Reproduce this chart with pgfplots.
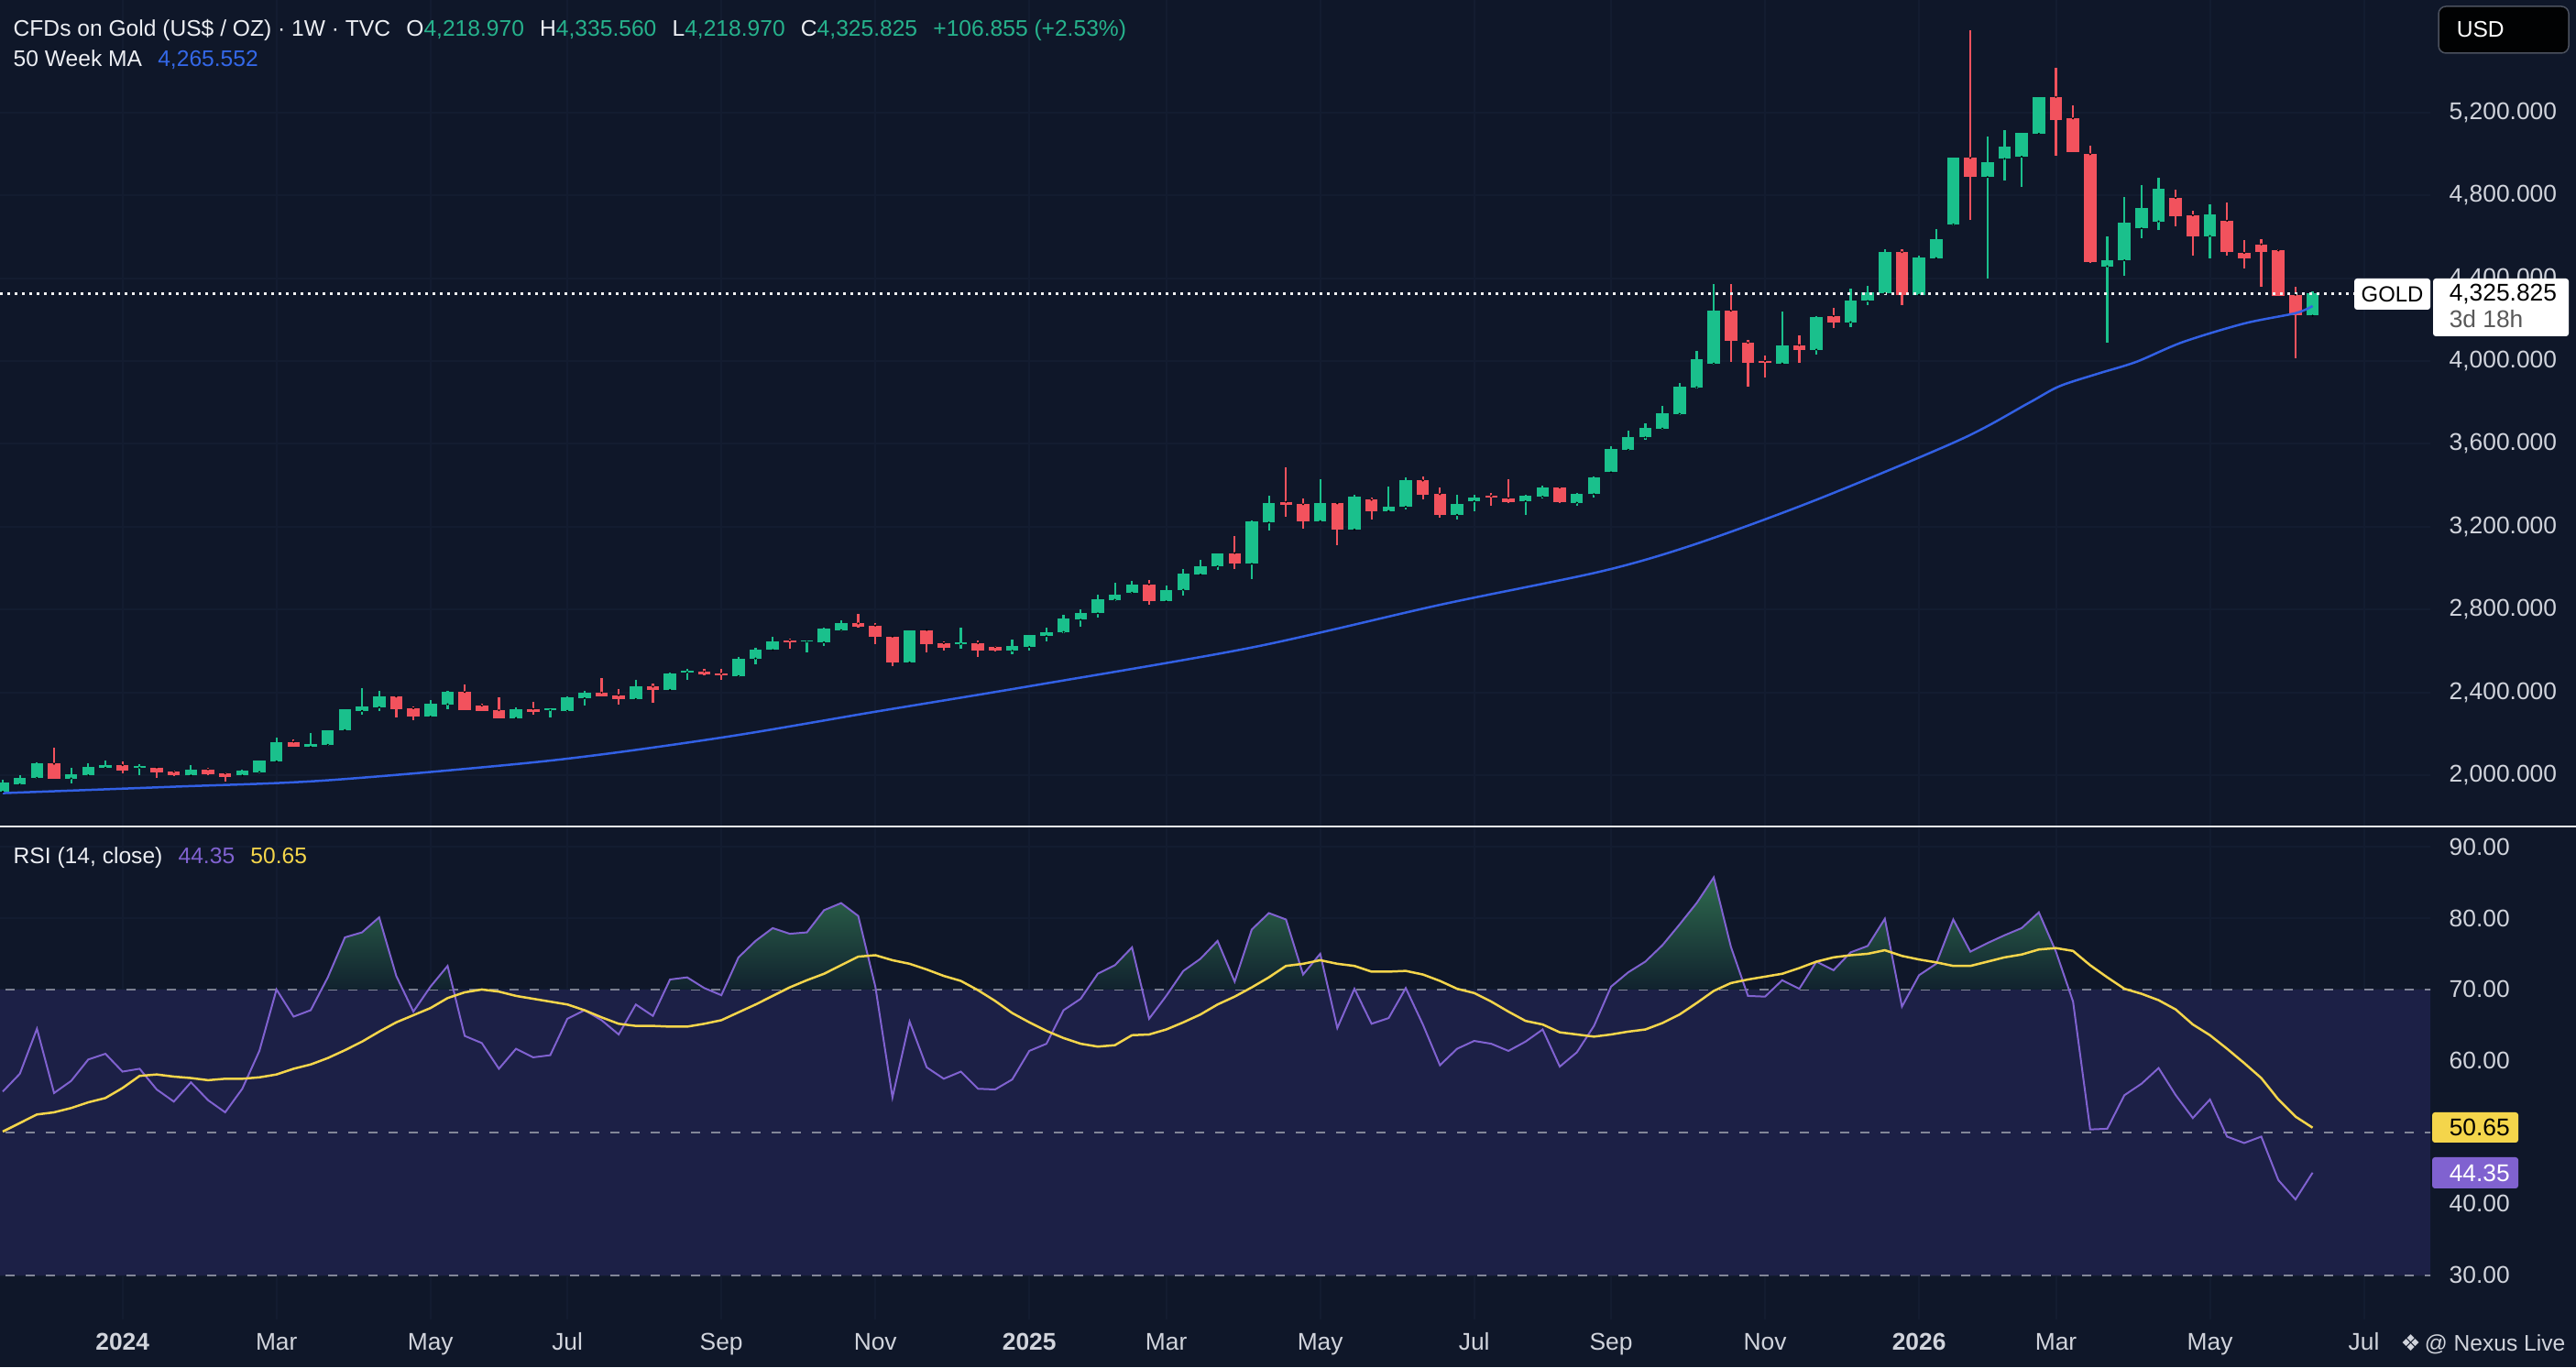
\documentclass[border=0pt]{standalone}
\usepackage{fontspec}
\setmainfont{Liberation Sans}
\newfontfamily\dejavu{DejaVu Sans}
\usepackage{pgfplots}
\pgfplotsset{compat=1.18}
\usepackage{pgfplotstable}

\definecolor{bgc}{RGB}{15,23,41}
\definecolor{bandc}{RGB}{28,32,70}
\definecolor{gridc}{RGB}{19,28,48}
\definecolor{upc}{RGB}{26,192,140}
\definecolor{dnc}{RGB}{242,82,93}
\definecolor{mac}{RGB}{50,96,228}
\definecolor{rsic}{RGB}{128,98,208}
\definecolor{yelc}{RGB}{244,213,75}
\definecolor{lblc}{RGB}{209,212,220}
\definecolor{gval}{RGB}{38,178,140}
\definecolor{mablue}{RGB}{52,104,232}
\definecolor{dashc}{RGB}{130,134,152}
\definecolor{gtop}{RGB}{46,106,78}
\definecolor{gbot}{RGB}{17,34,46}
\definecolor{hdrc}{RGB}{236,238,243}
\pgfdeclareverticalshading{rsig}{100bp}{color(0bp)=(gbot); color(57.6bp)=(gbot); color(75bp)=(gtop); color(100bp)=(gtop)}

\newcommand\hdr{\fontsize{7}{8.4}\selectfont}
\newcommand\lbl{\fontsize{7.5}{9}\selectfont}

\pgfplotstableread{
k O H L C
0 1920 1979 1916 1967
1 1956 1999 1950 1989
2 1988 2063 1985 2059
4 1985 2034 1960 2004
5 2000 2056 1997 2041
6 2037 2073 2034 2049
8 2037 2053 2001 2041
11 1999 2051 1999 2026
14 1999 2026 1997 2023
15 2016 2073 2009 2070
16 2067 2181 2067 2162
18 2137 2206 2132 2150
19 2147 2218 2144 2218
20 2218 2318 2218 2318
21 2311 2420 2291 2331
22 2328 2406 2311 2380
25 2283 2365 2280 2346
26 2343 2409 2318 2405
30 2277 2328 2277 2321
32 2315 2325 2280 2321
33 2311 2380 2306 2375
34 2372 2409 2336 2399
37 2368 2461 2362 2428
39 2412 2498 2412 2493
40 2498 2515 2461 2505
43 2479 2571 2476 2564
44 2564 2616 2535 2608
45 2605 2670 2601 2645
47 2645 2649 2593 2649
48 2642 2711 2623 2707
49 2701 2748 2697 2736
53 2545 2701 2545 2701
56 2634 2712 2613 2642
59 2601 2656 2586 2623
60 2619 2678 2601 2678
61 2672 2715 2645 2692
62 2692 2774 2689 2756
63 2751 2803 2719 2785
64 2782 2874 2763 2849
65 2847 2928 2844 2871
66 2881 2940 2878 2922
68 2840 2918 2840 2896
69 2896 2994 2869 2972
70 2969 3040 2969 3011
71 3009 3073 2992 3073
73 3021 3232 2947 3227
74 3220 3350 3183 3313
77 3227 3429 3227 3313
79 3186 3353 3186 3345
81 3276 3392 3276 3298
82 3296 3436 3283 3423
85 3257 3352 3235 3311
86 3323 3355 3276 3342
89 3323 3353 3257 3350
90 3345 3397 3338 3389
92 3316 3364 3301 3360
93 3357 3444 3341 3438
94 3463 3588 3459 3574
95 3571 3662 3568 3632
96 3631 3701 3620 3678
97 3674 3785 3671 3748
98 3745 3892 3742 3878
99 3873 4050 3870 4010
100 3988 4371 3985 4243
104 3988 4239 3988 4074
106 4055 4217 4032 4212
108 4187 4349 4165 4290
109 4290 4364 4268 4330
110 4327 4541 4327 4526
112 4320 4507 4320 4500
113 4497 4637 4497 4588
114 4659 4983 4656 4980
116 4888 5084 4397 4958
117 4976 5113 4873 5035
118 4986 5101 4839 5101
119 5097 5274 5094 5274
123 4457 4600 4088 4485
124 4486 4792 4411 4669
125 4640 4851 4593 4737
126 4674 4885 4634 4831
129 4603 4758 4497 4708
135 4218.97 4335.56 4218.97 4325.825
}\uptab

\pgfplotstableread{
k O H L C
3 2056 2132 1982 1985
7 2049 2066 2009 2023
9 2038 2038 1988 2014
10 2017 2023 1997 1999
12 2029 2034 1999 2004
13 2009 2014 1970 1994
17 2162 2174 2137 2137
23 2380 2380 2280 2321
24 2324 2331 2265 2284
27 2402 2439 2316 2316
28 2336 2347 2311 2311
29 2314 2375 2277 2277
31 2321 2353 2291 2306
35 2399 2468 2380 2383
36 2387 2417 2343 2368
38 2428 2442 2350 2412
41 2501 2515 2483 2486
42 2490 2515 2461 2483
46 2652 2660 2613 2645
50 2733 2778 2711 2719
51 2723 2737 2634 2667
52 2670 2670 2525 2545
54 2701 2701 2594 2634
55 2638 2645 2601 2616
57 2638 2653 2572 2604
58 2619 2626 2598 2604
67 2922 2943 2825 2840
72 3073 3154 2996 3021
75 3320 3488 3249 3305
76 3308 3338 3190 3227
78 3313 3313 3109 3186
80 3330 3341 3235 3276
83 3423 3441 3333 3353
84 3357 3389 3245 3257
87 3348 3364 3301 3341
88 3338 3429 3313 3320
91 3389 3392 3316 3319
101 4243 4371 3995 4099
102 4088 4103 3878 3991
103 4000 4025 3922 3993
105 4077 4124 3991 4055
107 4217 4257 4158 4187
111 4526 4541 4268 4320
115 4980 5595 4681 4888
120 5274 5415 4991 5165
121 5171 5234 5010 5010
122 4998 5038 4475 4478
127 4787 4828 4652 4700
128 4703 4725 4507 4603
130 4677 4767 4507 4526
131 4522 4585 4448 4497
132 4563 4588 4357 4526
133 4534 4538 4312 4312
134 4320 4357 4015 4219
}\dntab

\pgfplotstableread{
k r m
0 55.7 50.1
1 58.2 51.3
2 64.5 52.5
3 55.5 52.8
4 57.2 53.4
5 60.2 54.2
6 61.0 54.8
7 58.5 56.2
8 58.9 57.9
9 56.0 58.1
10 54.3 57.8
11 57.0 57.6
12 54.5 57.3
13 52.8 57.5
14 56.1 57.5
15 61.4 57.7
16 70.0 58.1
17 66.2 58.9
18 67.1 59.5
19 71.7 60.4
20 77.3 61.5
21 78.0 62.7
22 80.1 64.1
23 71.9 65.4
24 66.9 66.4
25 70.4 67.4
26 73.3 68.8
27 63.5 69.6
28 62.5 70.0
29 58.9 69.7
30 61.7 69.1
31 60.5 68.7
32 60.8 68.3
33 65.9 67.9
34 67.1 67.1
35 65.7 66.1
36 63.7 65.2
37 67.9 64.9
38 66.3 64.9
39 71.4 64.8
40 71.7 64.8
41 70.2 65.2
42 69.2 65.7
43 74.5 66.8
44 76.8 67.9
45 78.6 69.1
46 77.8 70.3
47 78.0 71.3
48 81.1 72.2
49 82.1 73.4
50 80.3 74.6
51 70.4 74.8
52 54.9 74.1
53 65.5 73.6
54 59.1 72.8
55 57.5 71.9
56 58.5 71.2
57 56.1 69.9
58 56.0 68.4
59 57.4 66.7
60 61.4 65.4
61 62.4 64.2
62 67.1 63.2
63 68.7 62.4
64 72.2 62.0
65 73.4 62.2
66 75.9 63.6
67 65.9 63.7
68 69.1 64.4
69 72.6 65.4
70 74.3 66.5
71 76.8 67.9
72 71.1 69.0
73 78.4 70.3
74 80.7 71.7
75 79.8 73.3
76 72.1 73.6
77 75.0 74.1
78 64.6 73.6
79 70.1 73.3
80 65.2 72.5
81 66.0 72.5
82 70.2 72.6
83 65.1 72.1
84 59.4 71.2
85 61.7 70.1
86 62.8 69.5
87 62.4 68.3
88 61.4 66.9
89 62.7 65.6
90 64.4 65.1
91 59.2 64.0
92 61.2 63.7
93 64.9 63.4
94 70.4 63.7
95 72.4 64.1
96 73.9 64.4
97 76.2 65.3
98 79.1 66.5
99 82.1 68.1
100 85.7 69.8
101 76.0 70.9
102 69.1 71.4
103 69.0 71.8
104 71.3 72.2
105 70.1 73.0
106 73.9 73.9
107 72.7 74.5
108 75.2 74.8
109 76.1 75.0
110 79.9 75.5
111 67.6 74.7
112 72.0 74.2
113 73.6 73.8
114 79.8 73.3
115 75.3 73.3
116 76.5 73.9
117 77.6 74.5
118 78.6 74.9
119 80.8 75.6
120 75.3 75.8
121 68.3 75.4
122 50.4 73.4
123 50.5 71.7
124 55.2 70.1
125 56.8 69.4
126 59.0 68.5
127 55.2 67.2
128 52.0 65.1
129 54.6 63.6
130 49.4 61.7
131 48.5 59.7
132 49.4 57.6
133 43.3 54.6
134 40.6 52.2
135 44.35 50.65
}\rsitab

\pgfplotsset{
  tvbase/.style={
    scale only axis, width=265.2mm,
    xmin=-0.16, xmax=141.88,
    axis line style={draw=none}, tick style={draw=none},
    xtick={7,16,25,33,42,51,60,68,77,86,94,103,112,120,129,138},
    grid=major, grid style={gridc, line width=0.2mm},
    tick label style={font=\lbl, text=lblc},
    yticklabel pos=right,
    yticklabel style={anchor=west, inner sep=0pt, xshift=2mm},
  },
  candle/.style={only marks, mark=*, mark size=0.01pt, mark options={draw=none, fill=none}},
}

\begin{document}
\begin{tikzpicture}
\fill[bgc] (0mm,0mm) rectangle (281.1mm,149.2mm);
\useasboundingbox (0mm,0mm) rectangle (281.1mm,149.2mm);

% ---------------- price panel ----------------
\begin{axis}[tvbase, at={(0mm,149.2mm)}, anchor=north west, height=90.2mm,
  ymin=1753, ymax=5742.7,
  ytick={2000,2400,2800,3200,3600,4000,4400,4800,5200},
  yticklabels={{2,000.000},{2,400.000},{2,800.000},{3,200.000},{3,600.000},{4,000.000},{4,400.000},{4,800.000},{5,200.000}},
  xticklabels={}]
  % wicks
  \addplot[candle, error bars/.cd, y dir=both, y explicit, error mark=none,
    error bar style={draw=upc, solid, line width=0.22mm}]
    table[x=k, y=O, y error plus expr=\thisrow{H}-\thisrow{O}, y error minus expr=\thisrow{O}-\thisrow{L}] {\uptab};
  \addplot[candle, error bars/.cd, y dir=both, y explicit, error mark=none,
    error bar style={draw=dnc, solid, line width=0.22mm}]
    table[x=k, y=O, y error plus expr=\thisrow{H}-\thisrow{O}, y error minus expr=\thisrow{O}-\thisrow{L}] {\dntab};
  % bodies
  \addplot[candle, error bars/.cd, y dir=plus, y explicit, error mark=none,
    error bar style={draw=upc, solid, line width=1.35mm}]
    table[x=k, y=O, y error plus expr={max(\thisrow{C}-\thisrow{O},8)}, y error minus expr=0] {\uptab};
  \addplot[candle, error bars/.cd, y dir=minus, y explicit, error mark=none,
    error bar style={draw=dnc, solid, line width=1.35mm}]
    table[x=k, y=O, y error plus expr=0, y error minus expr={max(\thisrow{O}-\thisrow{C},8)}] {\dntab};
  % 50 week MA
  \addplot[mac, line width=0.25mm, smooth, tension=0.5, mark=none] coordinates {
    (0,1914) (10,1945) (19,1976) (32,2071) (42,2182) (51,2307) (60,2430)
    (73,2617) (84,2823) (93.5,2986) (99,3118) (106,3330) (114.4,3620)
    (118.4,3797) (120.2,3878) (122.5,3940) (124.7,3996) (127.4,4091)
    (131,4181) (134,4231) (135,4265.552)};
  % current price line
  \addplot[white!90!gray, line width=0.25mm, dash pattern=on 0.25mm off 0.55mm, mark=none]
    coordinates {(-1,4325.825) (150,4325.825)};
\end{axis}

% ---------------- RSI panel ----------------
\begin{axis}[tvbase, at={(0mm,58.8mm)}, anchor=north west, height=53.6mm,
  ymin=23.8, ymax=92.57,
  ytick={30,40,50,60,70,80,90},
  yticklabels={30.00,40.00,50.00,60.00,70.00,80.00,90.00},
  xticklabels={\textbf{2024},Mar,May,Jul,Sep,Nov,\textbf{2025},Mar,May,Jul,Sep,Nov,\textbf{2026},Mar,May,Jul},
  xticklabel style={anchor=base, yshift=-3.4mm}]
  \fill[bandc] (axis cs:-1,30) rectangle (axis cs:143,70);
  \addplot[dashc, line width=0.2mm, dash pattern=on 1mm off 1.2mm, mark=none] coordinates {(-1,70) (143,70)};
  \addplot[dashc, line width=0.2mm, dash pattern=on 1mm off 1.2mm, mark=none] coordinates {(-1,50) (143,50)};
  \addplot[dashc, line width=0.2mm, dash pattern=on 1mm off 1.2mm, mark=none] coordinates {(-1,30) (143,30)};
  \begin{scope}
    \clip (axis cs:-1,70) rectangle (axis cs:143,100);
    \addplot[draw=none, shade, shading=rsig, mark=none] table[x=k, y=r] {\rsitab}
      -- (axis cs:135,70) -- (axis cs:0,70) -- cycle;
  \end{scope}
  \addplot[rsic, line width=0.2mm, mark=none] table[x=k, y=r] {\rsitab};
  \addplot[yelc, line width=0.25mm, mark=none] table[x=k, y=m] {\rsitab};
\end{axis}

% ---------------- overlays ----------------
\begin{scope}[x=0.1mm, y=0.1mm]
  \draw[white!88!gray, line width=0.2mm] (0,590) -- (2811,590);
  % header
  \node[anchor=base west, inner sep=0, font=\hdr, text=hdrc] at (14,1452)
    {CFDs on Gold (US\$ / OZ) · 1W · TVC\hspace{0.7em}O\textcolor{gval}{4,218.970}\hspace{0.7em}H\textcolor{gval}{4,335.560}\hspace{0.7em}L\textcolor{gval}{4,218.970}\hspace{0.7em}C\textcolor{gval}{4,325.825}\hspace{0.7em}\textcolor{gval}{+106.855 (+2.53\%)}};
  \node[anchor=base west, inner sep=0, font=\hdr, text=hdrc] at (14,1419)
    {50 Week MA\hspace{0.7em}\textcolor{mablue}{4,265.552}};
  \node[anchor=base west, inner sep=0, font=\hdr, text=hdrc] at (14,549)
    {RSI (14, close)\hspace{0.7em}\textcolor{rsic}{44.35}\hspace{0.7em}\textcolor{yelc}{50.65}};
  % USD box
  \filldraw[fill=black!92!bgc, draw=white!25!bgc, line width=0.15mm, rounded corners=0.8mm] (2661,1434) rectangle (2803,1485);
  \node[anchor=west, inner sep=0, font=\hdr, text=white] at (2680,1460) {USD};
  % GOLD price labels
  \fill[white, rounded corners=0.3mm] (2569,1154) rectangle (2652,1188);
  \node[anchor=center, inner sep=0, font=\fontsize{6.8}{8}\selectfont, text=black] at (2610.5,1171) {GOLD};
  \fill[white, rounded corners=0.3mm] (2655,1125) rectangle (2803,1188);
  \node[anchor=west, inner sep=0, font=\lbl, text=black] at (2672,1171) {4,325.825};
  \node[anchor=west, inner sep=0, font=\lbl, text=black!65] at (2672,1144) {3d 18h};
  % RSI value labels
  \fill[yelc, rounded corners=0.3mm] (2654,245) rectangle (2748,278);
  \node[anchor=west, inner sep=0, font=\lbl, text=black] at (2672,261.5) {50.65};
  \fill[rsic, rounded corners=0.3mm] (2654,195) rectangle (2748,229);
  \node[anchor=west, inner sep=0, font=\lbl, text=white] at (2672,212) {44.35};
  % watermark
  \node[anchor=base east, inner sep=0, font=\hdr, text=lblc] at (2800,18)
    {{\dejavu ❖}\,@ Nexus Live};
\end{scope}
\end{tikzpicture}
\end{document}
